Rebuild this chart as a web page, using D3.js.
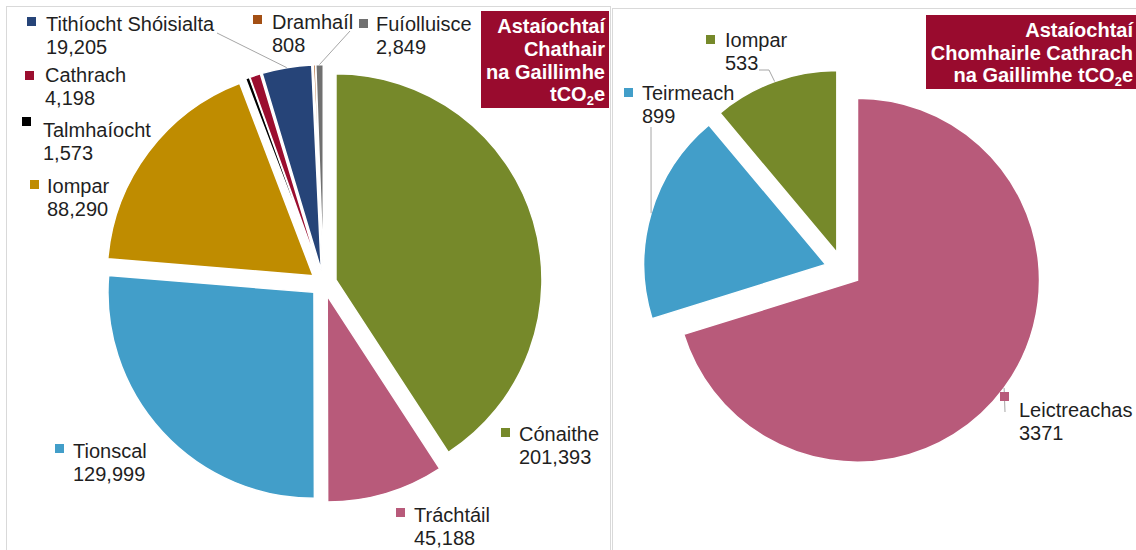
<!DOCTYPE html>
<html><head><meta charset="utf-8">
<script src="https://cdn.jsdelivr.net/npm/d3@7"></script>
<style>body{margin:0;background:#fff}svg{display:block;font-family:"Liberation Sans",Arial,sans-serif}</style>
</head><body><svg id="c" width="1136" height="550"></svg>
<script>
// ---- data ----
const cityCategories = ["Cónaithe","Tráchtáil","Tionscal","Iompar","Talmhaíocht","Cathrach","Tithíocht Shóisialta","Dramhaíl","Fuíolluisce"];
const cityValues = [201393,45188,129999,88290,1573,4198,19205,808,2849];
const cityValueLabels = ["201,393","45,188","129,999","88,290","1,573","4,198","19,205","808","2,849"];
const councilCategories = ["Leictreachas","Teirmeach","Iompar"];
const councilValues = [3371,899,533];
const councilValueLabels = ["3371","899","533"];
const cityTitle = [["Astaíochtaí"],["Chathair"],["na Gaillimhe"],["tCO","2","e"]];
const councilTitle = [["Astaíochtaí"],["Chomhairle Cathrach"],["na Gaillimhe tCO","2","e"]];

// ---- styles / layout ----
const cityColors = ["#76892a","#b85a7a","#429ec9","#bf8c00","#000000","#9b0e2f","#264478","#a34f14","#707070"];
const councilColors = ["#b85a7a","#429ec9","#76892a"];
const boxColor = "#990b2e";
const cityPie = {cx:323.5, cy:283.5, r:206, explode:13};
const councilPie = {cx:843, cy:269.5, r:182, explode:18};
// marker x, marker y, text x, first baseline, leader start points
const cityLabelLayout = [
  {mx:501,my:428,tx:519,ty:441},
  {mx:396,my:508,tx:414,ty:522},
  {mx:55,my:444,tx:73,ty:458},
  {mx:30,my:180,tx:47,ty:193},
  {mx:22,my:117,tx:43,ty:137},
  {mx:25,my:71,tx:45,ty:82},
  {mx:27,my:17,tx:46,ty:31,lead:[[217,33]]},
  {mx:253,my:15,tx:272,ty:29},
  {mx:359,my:19,tx:376,ty:31,lead:[[350,31]]}
];
const councilLabelLayout = [
  {mx:1000,my:392,tx:1019,ty:417,lead:[[1005,412]]},
  {mx:624,my:88,tx:642,ty:100,lead:[[651,127]]},
  {mx:706,my:35,tx:725,ty:47,lead:[[759,70],[769,70]]}
];

const svg = d3.select("#c");
// panel frames
svg.append("rect").attr("x",6.5).attr("y",6.5).attr("width",604).attr("height",560)
  .attr("fill","none").attr("stroke","#d9d9d9");
svg.append("rect").attr("x",612.5).attr("y",8.5).attr("width",560).attr("height",560)
  .attr("fill","none").attr("stroke","#d9d9d9");

function drawPie(cats, vals, valLabels, colors, P, layout){
  const pie = d3.pie().sort(null).value(d=>d).startAngle(0).endAngle(2*Math.PI);
  const arcs = pie(vals);
  const arc = d3.arc().innerRadius(0).outerRadius(P.r);
  const off = a => { const m=(a.startAngle+a.endAngle)/2; return [P.explode*Math.sin(m), -P.explode*Math.cos(m)]; };
  const g = svg.append("g").attr("transform",`translate(${P.cx},${P.cy})`);
  g.selectAll("path").data(arcs).join("path")
    .attr("d",arc)
    .attr("transform",d=>{const o=off(d);return `translate(${o[0]},${o[1]})`;})
    .attr("fill",(d,i)=>colors[i])
    .attr("stroke","#fff").attr("stroke-width",1.5).attr("stroke-linejoin","miter");
  // leaders
  arcs.forEach((a,i)=>{
    const L = layout[i];
    if(!L.lead) return;
    const m=(a.startAngle+a.endAngle)/2, o=off(a);
    const end=[P.cx+o[0]+P.r*Math.sin(m), P.cy+o[1]-P.r*Math.cos(m)];
    const pts = L.lead.concat([end]);
    svg.append("path").attr("d",d3.line()(pts)).attr("fill","none")
      .attr("stroke","#a6a6a6").attr("stroke-width",1);
  });
  // labels
  arcs.forEach((a,i)=>{
    const L = layout[i];
    svg.append("rect").attr("x",L.mx).attr("y",L.my).attr("width",9).attr("height",9)
      .attr("fill",colors[i]);
    const t = svg.append("text").attr("font-size",20).attr("fill","#1f1f1f");
    t.append("tspan").attr("x",L.tx).attr("y",L.ty).text(cats[i]);
    t.append("tspan").attr("x",L.tx).attr("y",L.ty+23).text(valLabels[i]);
  });
}

function drawTitle(lines, box, rightX, baselines){
  svg.append("rect").attr("x",box[0]).attr("y",box[1]).attr("width",box[2]).attr("height",box[3])
    .attr("fill",boxColor);
  lines.forEach((parts,k)=>{
    const t = svg.append("text").attr("x",rightX).attr("y",baselines[k]).attr("text-anchor","end")
      .attr("font-size",20).attr("font-weight","bold").attr("fill","#fff");
    parts.forEach((p,j)=>{
      const s=t.append("tspan").text(p);
      if(j===1) s.attr("font-size",13).attr("dy",4);
      if(j===2) s.attr("dy",-4);
    });
  });
}

drawPie(cityCategories, cityValues, cityValueLabels, cityColors, cityPie, cityLabelLayout);
drawPie(councilCategories, councilValues, councilValueLabels, councilColors, councilPie, councilLabelLayout);
drawTitle(cityTitle,[481,11,128,97],605,[33,56,79,101]);
drawTitle(councilTitle,[926,15,220,74],1133,[37,60,82]);
</script></body></html>
